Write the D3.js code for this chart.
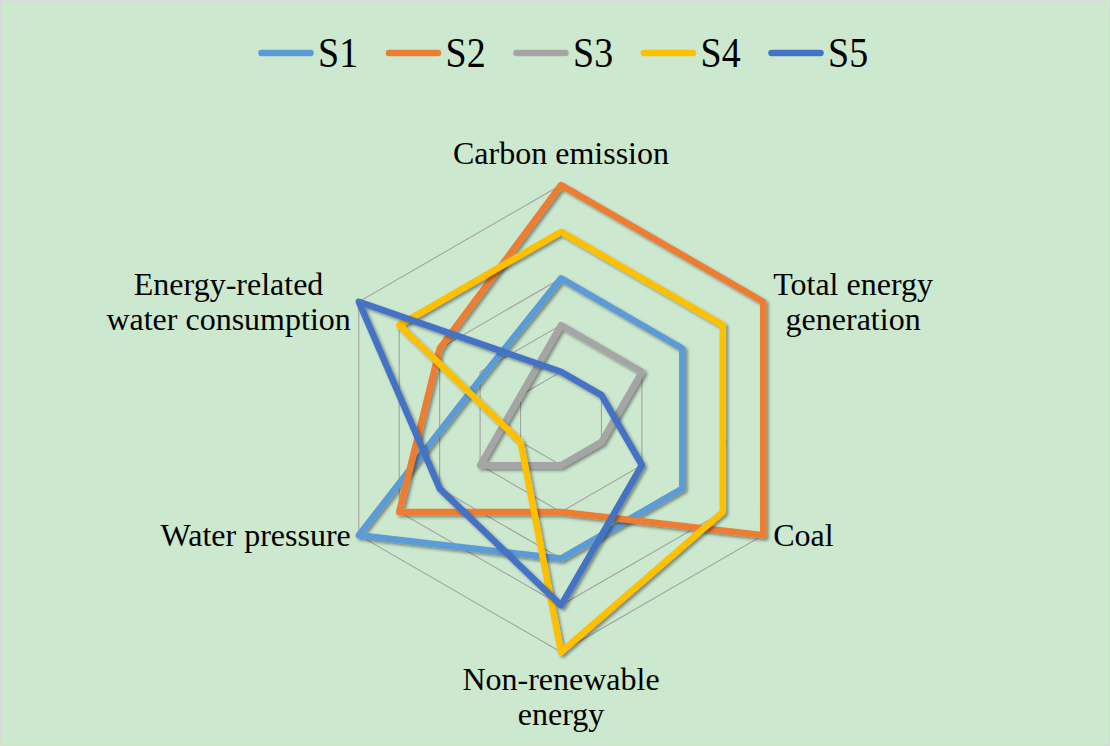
<!DOCTYPE html>
<html>
<head>
<meta charset="utf-8">
<script src="https://cdn.jsdelivr.net/npm/d3@7"></script>
<style>
  html, body { margin: 0; padding: 0; background: #CCE8CF; }
  svg { display: block; }
  text { font-family: "Liberation Serif", "Times New Roman", serif; fill: #000; }
</style>
</head>
<body>
<svg id="chart" width="1110" height="746"></svg>
<script>
// ---- data ----
const axes = ["Carbon emission", "Total energy generation", "Coal", "Non-renewable energy", "Water pressure", "Energy-related water consumption"];
const axisLabelLines = [
  ["Carbon emission"],
  ["Total energy", "generation"],
  ["Coal"],
  ["Non-renewable", "energy"],
  ["Water pressure"],
  ["Energy-related", "water consumption"]
];
const seriesNames = ["S1", "S2", "S3", "S4", "S5"];
const S1 = [3, 3, 3, 3, 5, 1.9];
const S2 = [5, 5, 5, 2, 4, 3];
const S3 = [2, 2, 1, 1, 2, 1];
const S4 = [4, 4, 4, 5, 1, 4];
const S5 = [1, 1, 2, 4, 3, 5];
const gridLevels = [1, 2, 3, 4, 5];
const colors = ["#5B9BD5", "#ED7D31", "#A5A5A5", "#FFC000", "#4472C4"];

const seriesValues = [S1, S2, S3, S4, S5];

// ---- layout ----
const W = 1110, H = 746;
const cx = 561, cy = 418.5, R = 233.5;
const svg = d3.select("#chart");

svg.append("rect").attr("x", 0.5).attr("y", 0.5).attr("width", W - 1).attr("height", H - 1)
  .attr("fill", "#CCE8CF").attr("stroke", "#D9D9D9").attr("stroke-width", 1);

const defs = svg.append("defs");
const f = defs.append("filter").attr("id", "shadow").attr("x", "-10%").attr("y", "-10%").attr("width", "130%").attr("height", "130%");
f.append("feDropShadow").attr("dx", 2.2).attr("dy", 2.2).attr("stdDeviation", 1.6)
  .attr("flood-color", "#000").attr("flood-opacity", 0.4);

const rScale = d3.scaleLinear().domain([0, 5]).range([0, R]);
const angle = d3.scaleLinear().domain([0, axes.length]).range([0, 2 * Math.PI]);

const g = svg.append("g").attr("transform", `translate(${cx},${cy})`);

// grid rings
const ringLine = d3.lineRadial().angle((d, i) => angle(i)).radius(d => rScale(d)).curve(d3.curveLinearClosed);
g.selectAll("path.grid").data(gridLevels).join("path")
  .attr("class", "grid")
  .attr("d", lvl => ringLine(axes.map(() => lvl)))
  .attr("fill", "none")
  .attr("stroke", "#A6A2A0")
  .attr("stroke-width", 1.1);

// series
const seriesLine = d3.lineRadial().angle((d, i) => angle(i)).radius(d => rScale(d)).curve(d3.curveLinearClosed);
g.selectAll("path.series").data(seriesValues).join("path")
  .attr("class", "series")
  .attr("d", d => seriesLine(d))
  .attr("fill", "none")
  .attr("stroke", (d, i) => colors[i])
  .attr("stroke-width", 6.5)
  .attr("stroke-linejoin", "round")
  .attr("filter", "url(#shadow)");

// axis labels
const fs = 32, lh = 35;
const labelG = svg.append("g");
axisLabelLines.forEach((lines, i) => {
  const a = angle(i);
  const vx = cx + Math.sin(a) * R, vy = cy - Math.cos(a) * R;
  let anchor, x, baseY;
  const n = lines.length;
  if (i === 0) { anchor = "middle"; x = vx; baseY = vy - 21; }
  else if (i === 3) { anchor = "middle"; x = vx; baseY = vy + 38; }
  else if (i === 1 || i === 2) { anchor = "start"; x = vx + 10; baseY = vy + 11 - (n - 1) * lh / 2; }
  else { anchor = "end"; x = vx - 8; baseY = vy + 11 - (n - 1) * lh / 2; }
  const t = labelG.append("text").attr("font-size", fs).attr("text-anchor", n > 1 && anchor !== "middle" ? "middle" : anchor);
  if (n > 1 && anchor !== "middle") {
    const tmp = labelG.append("text").attr("font-size", fs).text(lines.reduce((a, b) => a.length > b.length ? a : b));
    const bw = tmp.node().getComputedTextLength();
    tmp.remove();
    const ccx = anchor === "start" ? x + bw / 2 : x - bw / 2;
    lines.forEach((s, k) => t.append("tspan").attr("x", ccx).attr("y", baseY + k * lh).text(s));
  } else {
    lines.forEach((s, k) => t.append("tspan").attr("x", x).attr("y", baseY + k * lh).text(s));
  }
});

// legend
const legX = d3.scaleBand().domain(seriesNames).range([258, 258 + 5 * 127.5]).paddingInner(0);
const leg = svg.append("g");
const li = leg.selectAll("g").data(seriesNames).join("g")
  .attr("transform", d => `translate(${legX(d)},0)`);
li.append("line").attr("x1", 3.5).attr("x2", 52.5).attr("y1", 53).attr("y2", 53)
  .attr("stroke", (d, i) => colors[i]).attr("stroke-width", 6.5).attr("stroke-linecap", "round");
li.append("text").attr("transform", "translate(60,67) scale(1,1.12)")
  .attr("font-size", 38).text(d => d);
</script>
</body>
</html>
